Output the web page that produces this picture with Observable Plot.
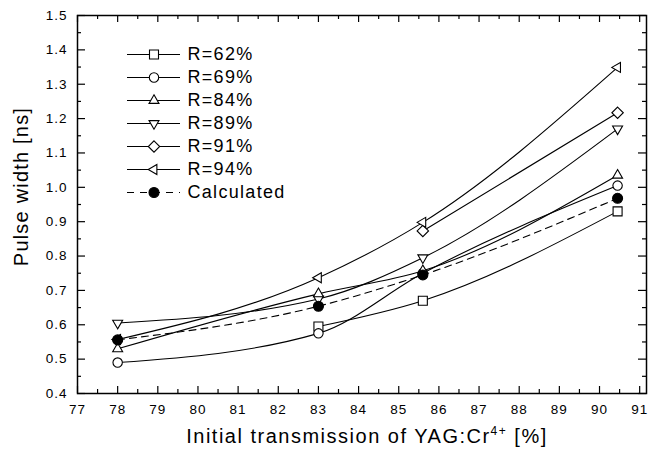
<!DOCTYPE html>
<html><head><meta charset="utf-8">
<script src="https://cdn.jsdelivr.net/npm/d3@7"></script>
<script src="https://cdn.jsdelivr.net/npm/@observablehq/plot@0.6"></script>
<style>
html,body{margin:0;padding:0;background:#fff;}
#chart{position:relative;width:655px;height:457px;}
#chart svg{position:absolute;left:0;top:0;}
</style></head><body><div id="chart"></div>
<script>
// ---- data ----
const transmission = [78, 83, 85.6, 90.45];          // Initial transmission of YAG:Cr4+ [%]
const r62 = [null, 0.595, 0.670, 0.930];
const r69 = [0.490, 0.575, 0.750, 1.005];
const r84 = [0.530, 0.690, 0.757, 1.035];
const r89 = [0.605, 0.675, 0.795, 1.170];
const r91 = [null, null, 0.873, 1.217];
const r94 = [0.557, 0.737, 0.898, 1.349];
const calculated = [0.556, 0.654, 0.745, 0.968];
const seriesNames = ["R=62%", "R=69%", "R=84%", "R=89%", "R=91%", "R=94%", "Calculated"];
const xTicks = [77, 78, 79, 80, 81, 82, 83, 84, 85, 86, 87, 88, 89, 90, 91];
const yTicks = [0.4, 0.5, 0.6, 0.7, 0.8, 0.9, 1.0, 1.1, 1.2, 1.3, 1.4, 1.5];
const xTitle = "Initial transmission of YAG:Cr4+ [%]";
const yTitle = "Pulse width [ns]";

// ---- symbols ----
function tri(deg) {
  return {draw(c, s) {
    const r = Math.sqrt(s / Math.PI) * 1.15;
    for (let i = 0; i < 3; i++) {
      const a = (deg + 120 * i) * Math.PI / 180;
      const x = r * Math.cos(a), y = r * Math.sin(a);
      if (i) c.lineTo(x, y); else c.moveTo(x, y);
    }
    c.closePath();
  }};
}
const sym = {
  square: {draw(c, s) { const r = Math.sqrt(s / Math.PI) * 0.9; c.moveTo(-r, -r); c.lineTo(r, -r); c.lineTo(r, r); c.lineTo(-r, r); c.closePath(); }},
  circle: {draw(c, s) { const r = Math.sqrt(s / Math.PI); c.moveTo(r, 0); c.arc(0, 0, r, 0, 2 * Math.PI); }},
  diamond: {draw(c, s) { const r = Math.sqrt(s / Math.PI) * 1.1; c.moveTo(0, -r); c.lineTo(r, 0); c.lineTo(0, r); c.lineTo(-r, 0); c.closePath(); }},
  up: tri(-90), down: tri(90), left: tri(180)
};
const series = [
  {name: seriesNames[0], values: r62, symbol: sym.square, r: 5, fill: "white", dash: null},
  {name: seriesNames[1], values: r69, symbol: sym.circle, r: 4.7, fill: "white", dash: null},
  {name: seriesNames[2], values: r84, symbol: sym.up, r: 5, fill: "white", dash: null},
  {name: seriesNames[3], values: r89, symbol: sym.down, r: 5, fill: "white", dash: null},
  {name: seriesNames[4], values: r91, symbol: sym.diamond, r: 5.2, fill: "white", dash: null},
  {name: seriesNames[5], values: r94, symbol: sym.left, r: 5, fill: "white", dash: null},
  {name: seriesNames[6], values: calculated, symbol: sym.circle, r: 5, fill: "black", dash: "7,5"}
];
const rows = s => transmission.map((x, i) => ({x, y: s.values[i]})).filter(d => d.y != null);

const W = 655, H = 457, ML = 77, MR = 9, MT = 15, MB = 64;
const FW = W - ML - MR, FH = H - MT - MB;
const yMinor = yTicks.slice(0, -1).map(v => v + 0.05);
const xMinor = xTicks.map(v => v + 0.5).filter(v => v < 91.17);

const marks = [];
// inward ticks on all four sides
marks.push(Plot.tickY(yTicks, {y: d => d, insetRight: FW - 8, strokeWidth: 1.2}));
marks.push(Plot.tickY(yTicks, {y: d => d, insetLeft: FW - 8, strokeWidth: 1.2}));
marks.push(Plot.tickY(yMinor, {y: d => d, insetRight: FW - 4, strokeWidth: 1.2}));
marks.push(Plot.tickY(yMinor, {y: d => d, insetLeft: FW - 4, strokeWidth: 1.2}));
marks.push(Plot.tickX(xTicks, {x: d => d, insetTop: FH - 7, strokeWidth: 1.2}));
marks.push(Plot.tickX(xTicks, {x: d => d, insetBottom: FH - 7, strokeWidth: 1.2}));
marks.push(Plot.tickX(xMinor, {x: d => d, insetTop: FH - 4, strokeWidth: 1.2}));
marks.push(Plot.tickX(xMinor, {x: d => d, insetBottom: FH - 4, strokeWidth: 1.2}));
// lines
for (const s of series) {
  marks.push(Plot.line(rows(s), {x: "x", y: "y", curve: "monotone-x", stroke: "black", strokeWidth: 1.1, strokeDasharray: s.dash || undefined}));
}
// markers
const order = [3, 4, 0, 1, 2, 5, 6];
for (const i of order) {
  const s = series[i];
  marks.push(Plot.dot(rows(s), {x: "x", y: "y", symbol: s.symbol, r: s.r, fill: s.fill, stroke: "black", strokeWidth: 1.1}));
}
marks.push(Plot.frame({stroke: "black", strokeWidth: 1.5}));
// titles
marks.push(Plot.text([yTitle], {text: d => d, frameAnchor: "left", textAnchor: "middle", rotate: -90, dx: -56, dy: -18, fontSize: 20}));
marks.push(Plot.text([xTitle], {text: d => d, frameAnchor: "bottom", textAnchor: "middle", dx: 5, dy: 49, fontSize: 20}));

const chart = Plot.plot({
  width: W, height: H, marginLeft: ML, marginRight: MR, marginTop: MT, marginBottom: MB,
  style: {fontFamily: "'Liberation Sans', Arial, sans-serif", fontSize: "13.5px", letterSpacing: "1px", color: "black", background: "transparent"},
  x: {domain: [77, 91.17], ticks: xTicks, tickSize: 0, tickPadding: 11, label: null, tickFormat: d => String(d)},
  y: {domain: [0.4, 1.5], ticks: yTicks, tickSize: 0, tickPadding: 10, label: null, tickFormat: ".1f"},
  marks
});

// superscript in the x title
d3.select(chart).selectAll("text").each(function() {
  if (this.textContent === xTitle) {
    const t = d3.select(this);
    t.text(null).style("letter-spacing", "1.5px");
    t.append("tspan").text("Initial transmission of YAG:Cr");
    t.append("tspan").attr("font-size", 12).attr("dy", -8).text("4+");
    t.append("tspan").attr("dy", 8).text(" [%]");
  }
  if (this.textContent === yTitle) d3.select(this).style("letter-spacing", "1.2px");
});

// legend, drawn with its own point scale
const legendMarks = [
  Plot.ruleY(seriesNames.slice(0, 6), {y: d => d, stroke: "black", strokeWidth: 1.1}),
  Plot.ruleY(seriesNames.slice(6), {y: d => d, stroke: "black", strokeWidth: 1.1, strokeDasharray: "7,6"})
];
for (const s of series) {
  legendMarks.push(Plot.dot([s.name], {y: d => d, symbol: s.symbol, r: s.r, fill: s.fill, stroke: "black", strokeWidth: 1.1}));
}
legendMarks.push(Plot.text(seriesNames, {y: d => d, text: d => d, frameAnchor: "right", textAnchor: "start", dx: 7, fontSize: 18}));
const legend = Plot.plot({
  width: W, height: H, marginLeft: 127, marginRight: W - 180, marginTop: 53, marginBottom: H - 192,
  style: {fontFamily: "'Liberation Sans', Arial, sans-serif", letterSpacing: "1.3px", color: "black", background: "transparent"},
  y: {type: "point", domain: seriesNames, padding: 0, axis: null},
  marks: legendMarks
});

const root = document.getElementById("chart");
root.appendChild(chart);
root.appendChild(legend);
</script></body></html>
